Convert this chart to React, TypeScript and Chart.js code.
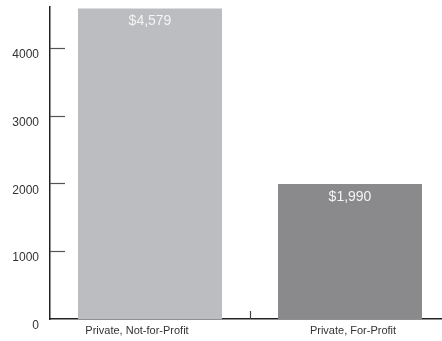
import React, { useEffect, useRef } from "react";
import { Chart, registerables } from "chart.js";

Chart.register(...registerables);

const categories = ["Private, Not-for-Profit", "Private, For-Profit"];
const values = [4579, 1990];
const valueLabels = ["$4,579", "$1,990"];
const barColors = ["#bcbdc1", "#8a8a8d"];
const yTicks = [0, 1000, 2000, 3000, 4000];
const yMax = 4600;

const FONT = "'Liberation Sans', Arial, sans-serif";

const decorPlugin = {
  id: "decor",
  afterDatasetsDraw(chart: any) {
    const ctx = chart.ctx;
    const area = chart.chartArea;
    const x = chart.scales.x;
    const y = chart.scales.y;
    ctx.save();
    // inner y tick marks
    ctx.strokeStyle = "#555";
    ctx.lineWidth = 1.2;
    y.ticks.forEach((t: any) => {
      if (t.value === 0) return;
      const py = Math.round(y.getPixelForValue(t.value)) + 0.5;
      ctx.beginPath();
      ctx.moveTo(area.left, py);
      ctx.lineTo(area.left + 15, py);
      ctx.stroke();
    });
    // middle x tick
    const mid = Math.round((x.getPixelForValue(0) + x.getPixelForValue(1)) / 2) + 0.5;
    ctx.strokeStyle = "#444";
    ctx.beginPath();
    ctx.moveTo(mid, area.bottom - 8);
    ctx.lineTo(mid, area.bottom);
    ctx.stroke();
    // value labels
    const meta = chart.getDatasetMeta(0);
    ctx.fillStyle = "#f4f4f4";
    ctx.font = "14px " + FONT;
    ctx.textAlign = "center";
    ctx.textBaseline = "middle";
    meta.data.forEach((bar: any, i: number) => {
      ctx.fillText(valueLabels[i], bar.x, bar.y + 13);
    });
    // category labels
    const shifts = [-13, 3];
    ctx.fillStyle = "#333";
    ctx.font = "11px " + FONT;
    categories.forEach((c, i) => {
      ctx.fillText(c, x.getPixelForValue(i) + shifts[i], area.bottom + 12);
    });
    ctx.restore();
  },
};

export default function App() {
  const ref = useRef<HTMLCanvasElement | null>(null);
  useEffect(() => {
    if (!ref.current) return;
    const chart = new Chart(ref.current, {
      type: "bar",
      data: {
        labels: categories,
        datasets: [
          {
            data: values,
            backgroundColor: barColors,
            barPercentage: 0.72,
            categoryPercentage: 1,
          },
        ],
      },
      options: {
        animation: false,
        responsive: false,
        layout: { padding: { top: 7, left: 0, right: 0, bottom: 0 } },
        plugins: { legend: { display: false }, tooltip: { enabled: false } },
        scales: {
          x: {
            grid: { display: false, drawTicks: false },
            border: { display: true, color: "#222", width: 1.5 },
            ticks: { display: false },
            afterFit(scale: any) {
              scale.height = 22;
            },
          },
          y: {
            min: 0,
            max: yMax,
            grid: { display: false, drawTicks: false },
            border: { display: true, color: "#222", width: 1.5 },
            ticks: {
              padding: 11,
              labelOffset: 7,
              color: "#333",
              font: { family: FONT, size: 12 },
              callback: (v: any) => String(v),
            },
            afterBuildTicks(scale: any) {
              scale.ticks = yTicks.map((v) => ({ value: v }));
            },
            afterFit(scale: any) {
              scale.width = 50;
              scale.paddingTop = 0;
              scale.paddingBottom = 0;
            },
          },
        },
      },
      plugins: [decorPlugin],
    });
    return () => chart.destroy();
  }, []);
  return (
    <div
      style={{
        position: "absolute",
        left: 0,
        top: 0,
        width: 442,
        height: 341,
        overflow: "hidden",
        background: "#fff",
      }}
    >
      <canvas ref={ref} width={450} height={341} style={{ display: "block" }} />
    </div>
  );
}
